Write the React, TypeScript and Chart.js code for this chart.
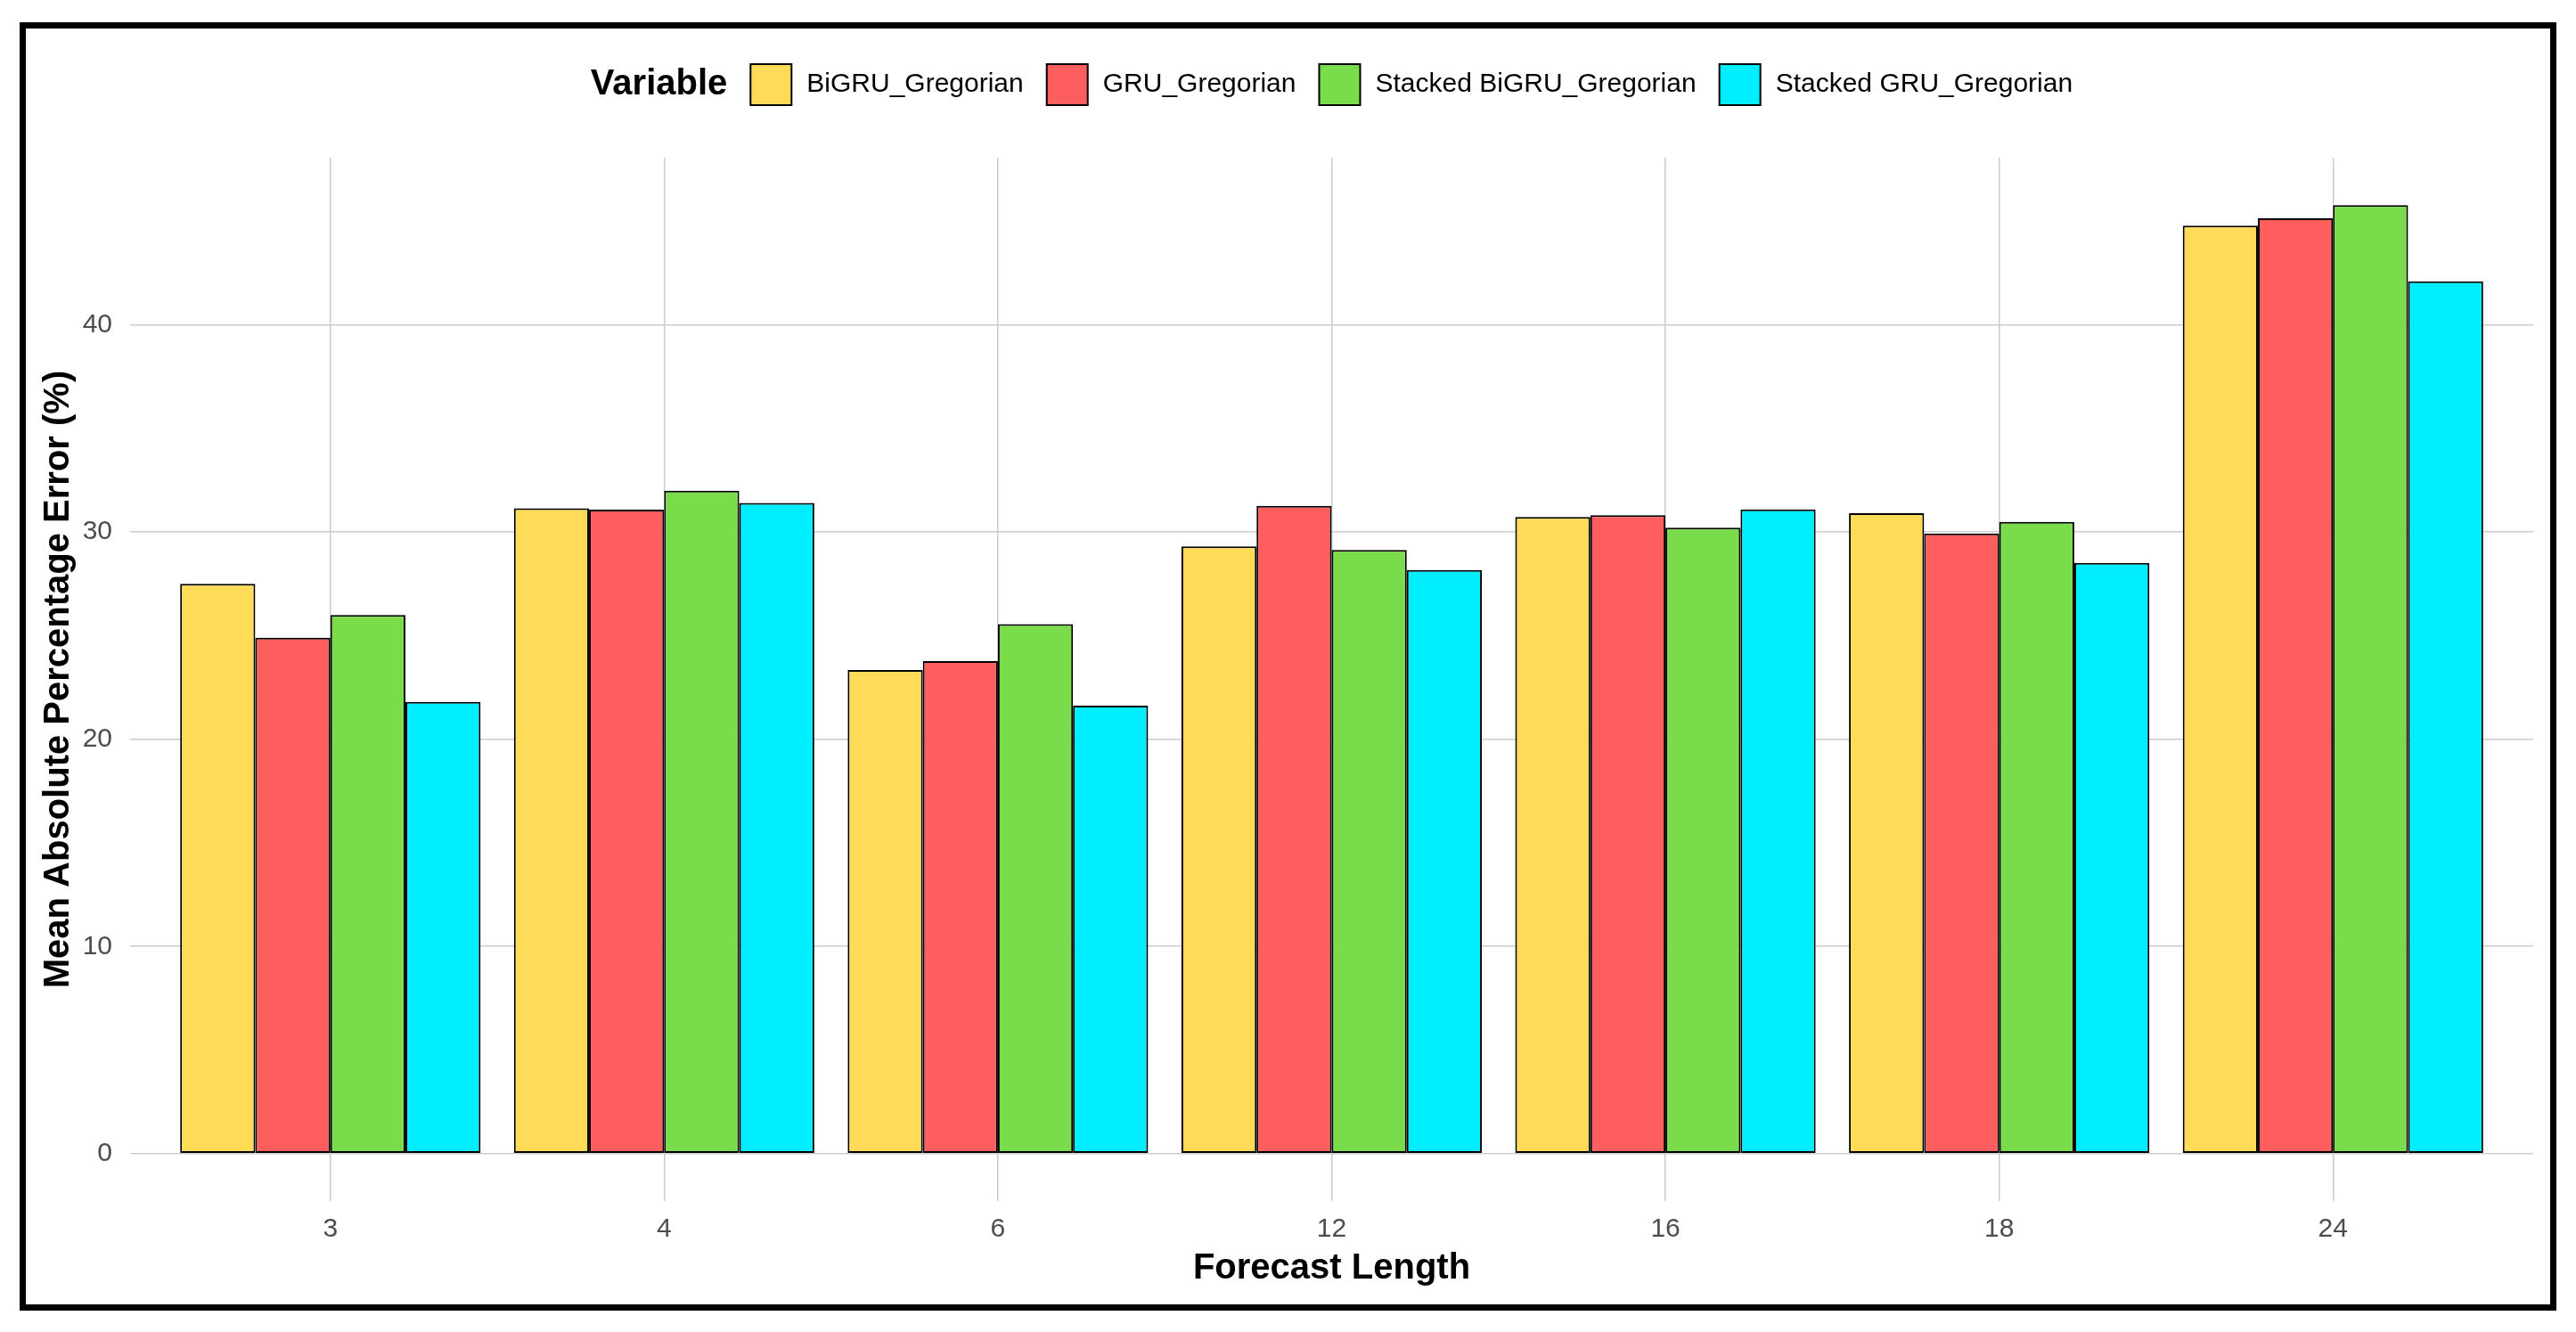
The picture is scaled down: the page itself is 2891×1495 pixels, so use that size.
import React, { useEffect, useRef } from "react";
import { Chart, registerables } from "chart.js";

Chart.register(...registerables);

// ---- data ----
const categories = ["3", "4", "6", "12", "16", "18", "24"];
const seriesNames = [
  "BiGRU_Gregorian",
  "GRU_Gregorian",
  "Stacked BiGRU_Gregorian",
  "Stacked GRU_Gregorian",
];
const bigruGregorian = [27.5, 31.15, 23.34, 29.31, 30.73, 30.91, 44.79];
const gruGregorian = [24.9, 31.08, 23.77, 31.26, 30.81, 29.93, 45.15];
const stackedBigruGregorian = [26.0, 32.0, 25.56, 29.14, 30.21, 30.49, 45.78];
const stackedGruGregorian = [21.8, 31.4, 21.62, 28.17, 31.09, 28.51, 42.1];
const yTickValues = [0, 10, 20, 30, 40];
const seriesColors = ["#FFDB58", "#FF5E5E", "#7ADC4B", "#00EEFF"];

const legendTitle = "Variable";
const xTitle = "Forecast Length";
const yTitle = "Mean Absolute Percentage Error (%)";

const FONT = '"Liberation Sans", Arial, sans-serif';

const allSeries = [bigruGregorian, gruGregorian, stackedBigruGregorian, stackedGruGregorian];
const maxVal = Math.max(...allSeries.flat());
const yPad = maxVal * 0.05;

const framePlugin = {
  id: "frame",
  afterDraw(chart: any) {
    const ctx = chart.ctx;
    ctx.save();
    ctx.strokeStyle = "#000";
    ctx.lineWidth = 7;
    ctx.strokeRect(25.5, 28.5, 2840, 1439);
    ctx.restore();
  },
};

const legendPlugin = {
  id: "ggLegend",
  afterDraw(chart: any) {
    const ctx = chart.ctx;
    const { left, right } = chart.chartArea;
    const cy = 95;
    const box = 46;
    const gapTitle = 26;
    const gapBoxText = 17;
    const gapItem = 26;
    ctx.save();
    ctx.textBaseline = "middle";
    ctx.textAlign = "left";
    ctx.font = `bold 40px ${FONT}`;
    const titleW = ctx.measureText(legendTitle).width;
    ctx.font = `30px ${FONT}`;
    const ds = chart.data.datasets;
    const widths = ds.map((d: any) => ctx.measureText(d.label).width);
    let total = titleW + gapTitle;
    widths.forEach((w: number, i: number) => {
      total += box + gapBoxText + w + (i < widths.length - 1 ? gapItem : 0);
    });
    let x = (left + right) / 2 - total / 2;
    ctx.fillStyle = "#000";
    ctx.font = `bold 40px ${FONT}`;
    ctx.fillText(legendTitle, x, cy);
    x += titleW + gapTitle;
    ctx.font = `30px ${FONT}`;
    ds.forEach((d: any, i: number) => {
      ctx.fillStyle = d.backgroundColor;
      ctx.fillRect(x, cy - box / 2, box, box);
      ctx.strokeStyle = "#000";
      ctx.lineWidth = 2;
      ctx.strokeRect(x, cy - box / 2, box, box);
      ctx.fillStyle = "#000";
      ctx.fillText(d.label, x + box + gapBoxText, cy);
      x += box + gapBoxText + widths[i] + gapItem;
    });
    ctx.restore();
  },
};

export default function App() {
  const ref = useRef<HTMLCanvasElement>(null);

  useEffect(() => {
    const canvas = ref.current;
    if (!canvas) return;
    const datasets = allSeries.map((vals, s) => ({
      label: seriesNames[s],
      data: vals.map((v, i) => ({ x: i, y: v })),
      backgroundColor: seriesColors[s],
      borderColor: "#000",
      borderWidth: 2,
      borderSkipped: false as const,
      categoryPercentage: 0.9,
      barPercentage: 1.0,
    }));

    const chart = new Chart(canvas, {
      type: "bar",
      data: { datasets },
      options: {
        responsive: false,
        animation: false,
        devicePixelRatio: 1,
        layout: { padding: { left: 30, right: 48, top: 177, bottom: 30 } },
        plugins: {
          legend: { display: false },
          tooltip: { enabled: false },
        },
        scales: {
          x: {
            type: "linear",
            min: -0.6,
            max: categories.length - 1 + 0.6,
            offset: false,
            afterBuildTicks: (scale: any) => {
              scale.ticks = categories.map((_, i) => ({ value: i }));
            },
            afterFit: (scale: any) => {
              scale.height = 117;
            },
            grid: {
              offset: false,
              color: "#CCCCCC",
              lineWidth: 1.5,
              drawTicks: false,
            },
            border: { display: false },
            ticks: {
              autoSkip: false,
              maxRotation: 0,
              padding: 14,
              color: "#4D4D4D",
              font: { family: FONT, size: 30 },
              callback: (v: any) => categories[Math.round(Number(v))] ?? "",
            },
            title: {
              display: true,
              text: xTitle,
              color: "#000",
              font: { family: FONT, size: 40, weight: "bold" },
              padding: { top: 0, bottom: 17 },
            },
          },
          y: {
            type: "linear",
            min: -yPad,
            max: maxVal + yPad,
            afterBuildTicks: (scale: any) => {
              scale.ticks = yTickValues.map((v) => ({ value: v }));
            },
            afterFit: (scale: any) => {
              scale.width = 116;
            },
            grid: {
              color: "#CCCCCC",
              lineWidth: 1.5,
              drawTicks: false,
            },
            border: { display: false },
            ticks: {
              padding: 20,
              color: "#4D4D4D",
              font: { family: FONT, size: 30 },
              callback: (v: any) => String(v),
            },
            title: {
              display: true,
              text: yTitle,
              color: "#000",
              font: { family: FONT, size: 40, weight: "bold" },
              padding: { top: 12, bottom: 0 },
            },
          },
        },
      },
      plugins: [framePlugin, legendPlugin],
    } as any);

    return () => chart.destroy();
  }, []);

  return (
    <div style={{ position: "absolute", left: 0, top: 0, width: 2891, height: 1495, background: "#fff" }}>
      <canvas ref={ref} width={2891} height={1495} style={{ width: 2891, height: 1495, display: "block" }} />
    </div>
  );
}
